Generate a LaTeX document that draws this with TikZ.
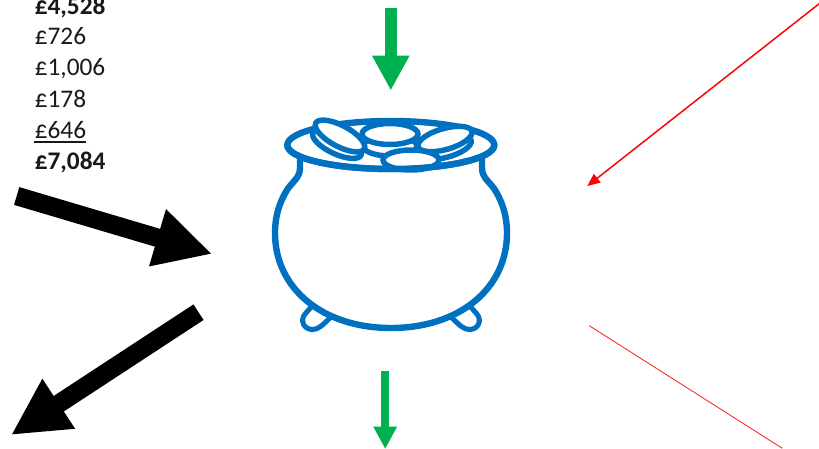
\documentclass[tikz,border=0pt]{standalone}
\usepackage{fontspec}
\setmainfont[Numbers=Lining]{Carlito}
\usetikzlibrary{arrows.meta}
\definecolor{potblue}{HTML}{0070C0}
\definecolor{arrowgreen}{HTML}{00B050}
\tikzset{
  px/.style={x=0.75pt,y=-0.75pt},
  amount/.style={anchor=base west,inner sep=0pt,font=\fontsize{19pt}{22pt}\selectfont,text=black!90},
  total/.style={amount,font=\fontsize{19pt}{22pt}\selectfont\bfseries},
  blockblack/.style={draw=black,line width=13.9pt,-{Triangle[length=42.8pt,width=41.5pt]}},
  greenbig/.style={draw=arrowgreen,line width=9pt,-{Triangle[length=26.2pt,width=26.2pt]}},
  greensmall/.style={draw=arrowgreen,line width=5.8pt,-{Triangle[length=16.7pt,width=16.5pt]}},
  redarrow/.style={draw=red,line width=1.1pt,-{Triangle[length=9.5pt,width=8pt]}},
  redline/.style={draw=red!85,line width=0.65pt},
  potline/.style={draw=potblue,line width=4.8pt,line cap=round,line join=round},
  footline/.style={draw=potblue,line width=3.8pt,line cap=round,line join=round},
  coin/.style={draw=potblue,line width=4.1pt,fill=white},
}
\begin{document}
\begin{tikzpicture}[px]
\useasboundingbox (0,0) rectangle (819,449);
\clip (0,0) rectangle (819,449);
% amounts
\node[total]  (t1) at (34.5,15) {£4,528};
\node[amount] (t2) at (34.5,45) {£726};
\node[amount] (t3) at (34.5,76) {£1,006};
\node[amount] (t4) at (34.5,107.5) {£178};
\node[amount] (t5) at (34.5,138.5) {£646};
\node[total]  (t6) at (34.5,169.5) {£7,084};
\coordinate (u1) at (34,141.9);
\coordinate (u2) at (86,141.9);
\draw[line width=1.2pt,black!90] (u1) -- (u2);
% arrows
\coordinate (a1s) at (16.7,196);  \coordinate (a1e) at (212.2,254);
\coordinate (a2s) at (198.5,312.2); \coordinate (a2e) at (11,435);
\coordinate (g1s) at (390.8,8.3); \coordinate (g1e) at (390.8,90.5);
\coordinate (g2s) at (385.2,370.7); \coordinate (g2e) at (385.2,449);
\coordinate (r1s) at (822,1.5); \coordinate (r1e) at (587.3,186);
\coordinate (r2s) at (589.3,325.7); \coordinate (r2e) at (782.3,448.3);
\draw[blockblack] (a1s) -- (a1e);
\draw[blockblack] (a2s) -- (a2e);
\draw[greenbig] (g1s) -- (g1e);
\draw[greensmall] (g2s) -- (g2e);
\draw[redarrow] (r1s) -- (r1e);
\draw[redline] (r2s) -- (r2e);
% feet
\draw[footline] (312.5,305.5) -- (305.5,313.5) .. controls (299.5,320) and (303.5,329.5) .. (312.5,329.5) .. controls (318.5,329.5) and (322,325.5) .. (331,317);
\draw[footline] (469.5,305.5) -- (476.5,313.5) .. controls (482.5,320) and (478.5,329.5) .. (469.5,329.5) .. controls (463.5,329.5) and (460,325.5) .. (451,317);
% body
\draw[potline] (300,158) -- (300,168) .. controls (300,178) and (292,182) .. (287,190)
  .. controls (279,203) and (275,217) .. (275,233)
  .. controls (275,288) and (322,328) .. (391,328)
  .. controls (460,328) and (507,288) .. (507,233)
  .. controls (507,217) and (503,203) .. (495,190)
  .. controls (490,182) and (482,178) .. (482,168) -- (482,158);
% rim
\draw[potline,fill=white] (390.8,145) ellipse [x radius=103.5,y radius=24];
% coins: lower layer
\draw[coin,rotate around={-25:(337,144)}] (337,144) ellipse [x radius=26.5,y radius=10];
\draw[coin,rotate around={15:(445,147.5)}] (445,147.5) ellipse [x radius=27,y radius=10];
\draw[coin] (390,146) ellipse [x radius=27,y radius=10];
% coins: upper layer
\draw[coin] (390,134) ellipse [x radius=28,y radius=10.5];
\draw[coin,rotate around={-28:(340,136)}] (340,136) ellipse [x radius=27.5,y radius=10.5];
\draw[coin,rotate around={16:(445,139)}] (445,139) ellipse [x radius=28,y radius=10.5];
\draw[coin] (411,160) ellipse [x radius=28,y radius=10];
% front of the rim
\draw[potline] (287.3,145) arc [start angle=180,end angle=360,x radius=103.5,y radius=-24];
\end{tikzpicture}
\end{document}
